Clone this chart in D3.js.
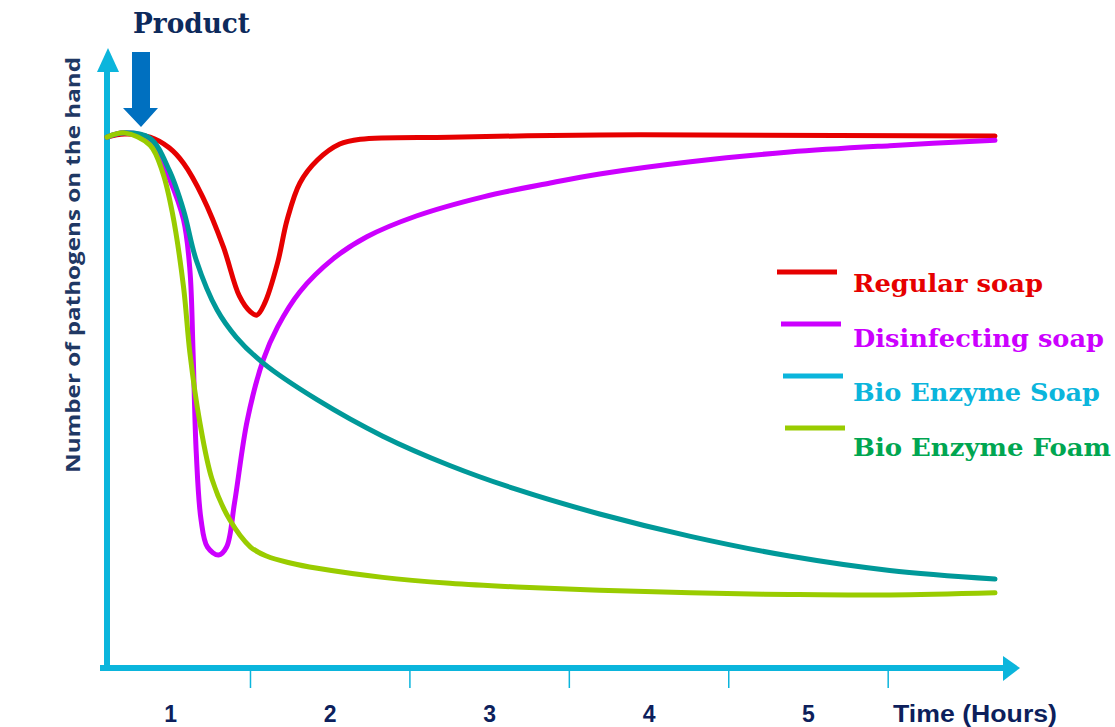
<!DOCTYPE html>
<html>
<head>
<meta charset="utf-8">
<script src="https://cdn.jsdelivr.net/npm/d3@7"></script>
<style>
  body { margin: 0; background: #fff; }
  svg { display: block; }
</style>
</head>
<body>
<div id="chart"></div>
<script>
// time in hours, pathogen level (relative, 100 = start)
const regularSoap = [
  [0.60, 99.6], [0.71, 100.2], [0.87, 99.6], [0.99, 97.6], [1.08, 94.7], [1.20, 88.4],
  [1.33, 79.0], [1.43, 69.8], [1.50, 66.8], [1.54, 66.2], [1.59, 68.5], [1.67, 76.0],
  [1.73, 84.1], [1.81, 91.0], [1.92, 95.3], [2.06, 98.3], [2.19, 99.2], [2.75, 99.6],
  [3.69, 100], [4.32, 100], [6.17, 99.8]
]
const disinfectingSoap = [
  [0.60, 99.6], [0.71, 100.4], [0.87, 99.2], [0.99, 91.9], [1.08, 84.1], [1.12, 74.7],
  [1.14, 59.1], [1.16, 40.3], [1.19, 27.8], [1.23, 22.7], [1.30, 21.2], [1.35, 22.7],
  [1.40, 31.0], [1.48, 46.5], [1.58, 57.8], [1.67, 64.0], [1.81, 70.6], [2.02, 76.8],
  [2.23, 80.9], [2.54, 84.8], [2.96, 88.4], [3.38, 91.0], [3.69, 92.7], [4.26, 95.0],
  [4.88, 96.8], [5.51, 98.0], [6.17, 99.0]
]
const bioEnzymeSoap = [
  [0.60, 99.6], [0.71, 100.4], [0.87, 99.4], [0.99, 93.4], [1.08, 85.9], [1.16, 76.5],
  [1.29, 67.2], [1.41, 62.1], [1.58, 57.2], [1.92, 50.3], [2.33, 43.5], [2.75, 38.0],
  [3.17, 33.5], [3.69, 28.9], [4.26, 24.7], [4.88, 21.0], [5.51, 18.3], [6.17, 16.7]
]
const bioEnzymeFoam = [
  [0.60, 99.6], [0.71, 100.4], [0.87, 98.1], [0.95, 92.9], [1.01, 85.4], [1.08, 71.5],
  [1.12, 59.1], [1.18, 46.5], [1.26, 35.3], [1.37, 27.8], [1.50, 22.7], [1.60, 21.0],
  [1.75, 19.7], [1.92, 18.7], [2.33, 17.0], [2.75, 15.9], [3.17, 15.2], [3.69, 14.6],
  [4.26, 14.1], [4.88, 13.8], [5.51, 13.7], [6.17, 14.1]
]
const seriesNames = ['Regular soap', 'Disinfecting soap', 'Bio Enzyme Soap', 'Bio Enzyme Foam']
const lineColors = ['#e60000', '#cc00ff', '#009999', '#99cc00']
const legendLineColors = ['#e60000', '#cc00ff', '#0bb5dc', '#99cc00']
const legendTextColors = ['#e60000', '#cc00ff', '#0bb5dc', '#00a651']
const hourLabels = [1, 2, 3, 4, 5]
const hourTicks = [1.5, 2.5, 3.5, 4.5, 5.5]

const width = 1115
const height = 727
const axisColor = '#0bb5dc'
const navy = '#0d1f5c'

const svg = d3.select('#chart').append('svg')
              .attr('width', width)
              .attr('height', height)

const x = d3.scaleLinear().domain([0.6, 6.17]).range([107, 995])
const y = d3.scaleLinear().domain([0, 100]).range([668, 135])

// axes with arrowheads
svg.append('line')
   .attr('x1', 107).attr('x2', 107)
   .attr('y1', 671).attr('y2', 70)
   .attr('stroke', axisColor).attr('stroke-width', 6)
svg.append('path')
   .attr('d', 'M97,72 L108,48 L119,72 Z')
   .attr('fill', axisColor)
svg.append('line')
   .attr('x1', 100).attr('x2', 1005)
   .attr('y1', 668).attr('y2', 668)
   .attr('stroke', axisColor).attr('stroke-width', 6)
svg.append('path')
   .attr('d', 'M1003,656 L1020,668 L1003,681 Z')
   .attr('fill', axisColor)

svg.selectAll('.tick')
   .data(hourTicks)
   .join('line')
   .attr('class', 'tick')
   .attr('x1', d => x(d)).attr('x2', d => x(d))
   .attr('y1', 668).attr('y2', 688)
   .attr('stroke', axisColor).attr('stroke-width', 1.5)

svg.selectAll('.hour')
   .data(hourLabels)
   .join('text')
   .attr('class', 'hour')
   .attr('x', d => x(d))
   .attr('y', 722)
   .attr('text-anchor', 'middle')
   .attr('font-family', 'Liberation Sans Narrow, Liberation Sans, Arial, sans-serif')
   .attr('font-weight', 'bold')
   .attr('font-size', 23)
   .attr('fill', navy)
   .text(d => d)

svg.append('text')
   .attr('x', 893).attr('y', 722)
   .attr('font-family', 'Liberation Sans Narrow, Liberation Sans, Arial, sans-serif')
   .attr('font-weight', 'bold')
   .attr('font-size', 23)
   .attr('fill', navy)
   .attr('textLength', 164)
   .attr('lengthAdjust', 'spacingAndGlyphs')
   .text('Time (Hours)')

svg.append('text')
   .attr('transform', 'translate(80,265) rotate(-90)')
   .attr('text-anchor', 'middle')
   .attr('font-family', 'Open Sans, Lato, sans-serif')
   .attr('font-weight', 'bold')
   .attr('font-size', 20)
   .attr('fill', '#1f3864')
   .attr('textLength', 416)
   .attr('lengthAdjust', 'spacingAndGlyphs')
   .text('Number of pathogens on the hand')

// product marker
svg.append('text')
   .attr('x', 133).attr('y', 33)
   .attr('font-family', 'DejaVu Serif, Liberation Serif, serif')
   .attr('font-weight', 'bold')
   .attr('font-size', 27)
   .attr('fill', '#0d2a5c')
   .attr('textLength', 117)
   .attr('lengthAdjust', 'spacingAndGlyphs')
   .text('Product')
svg.append('path')
   .attr('d', 'M132,52 L150,52 L150,108 L158,108 L141,127 L123,108 L132,108 Z')
   .attr('fill', '#0070c0')

// curves
const line = d3.line()
               .x(d => x(d[0]))
               .y(d => y(d[1]))
               .curve(d3.curveCatmullRom.alpha(0.5))

const allSeries = [regularSoap, disinfectingSoap, bioEnzymeSoap, bioEnzymeFoam]
svg.selectAll('.curve')
   .data(allSeries)
   .join('path')
   .attr('class', 'curve')
   .attr('d', d => line(d))
   .attr('fill', 'none')
   .attr('stroke', (d, i) => lineColors[i])
   .attr('stroke-width', 5)
   .attr('stroke-linejoin', 'round')
   .attr('stroke-linecap', 'round')

// legend
const legendLineX = [777, 781, 783, 785]
const legendWidths = [190, 251, 247, 258]
const legend = svg.selectAll('.legend')
                  .data(seriesNames)
                  .join('g')
                  .attr('class', 'legend')
                  .attr('transform', (d, i) => `translate(0, ${272 + i * 52})`)
legend.append('line')
      .attr('x1', (d, i) => legendLineX[i])
      .attr('x2', (d, i) => legendLineX[i] + 60)
      .attr('y1', 0).attr('y2', 0)
      .attr('stroke', (d, i) => legendLineColors[i])
      .attr('stroke-width', 5)
legend.append('text')
      .attr('x', 853)
      .attr('y', (d, i) => 20 + i * 2.5)
      .attr('font-family', 'DejaVu Serif, Liberation Serif, serif')
      .attr('font-weight', 'bold')
      .attr('font-size', 25)
      .attr('fill', (d, i) => legendTextColors[i])
      .attr('textLength', (d, i) => legendWidths[i])
      .attr('lengthAdjust', 'spacingAndGlyphs')
      .text(d => d)
</script>
</body>
</html>
